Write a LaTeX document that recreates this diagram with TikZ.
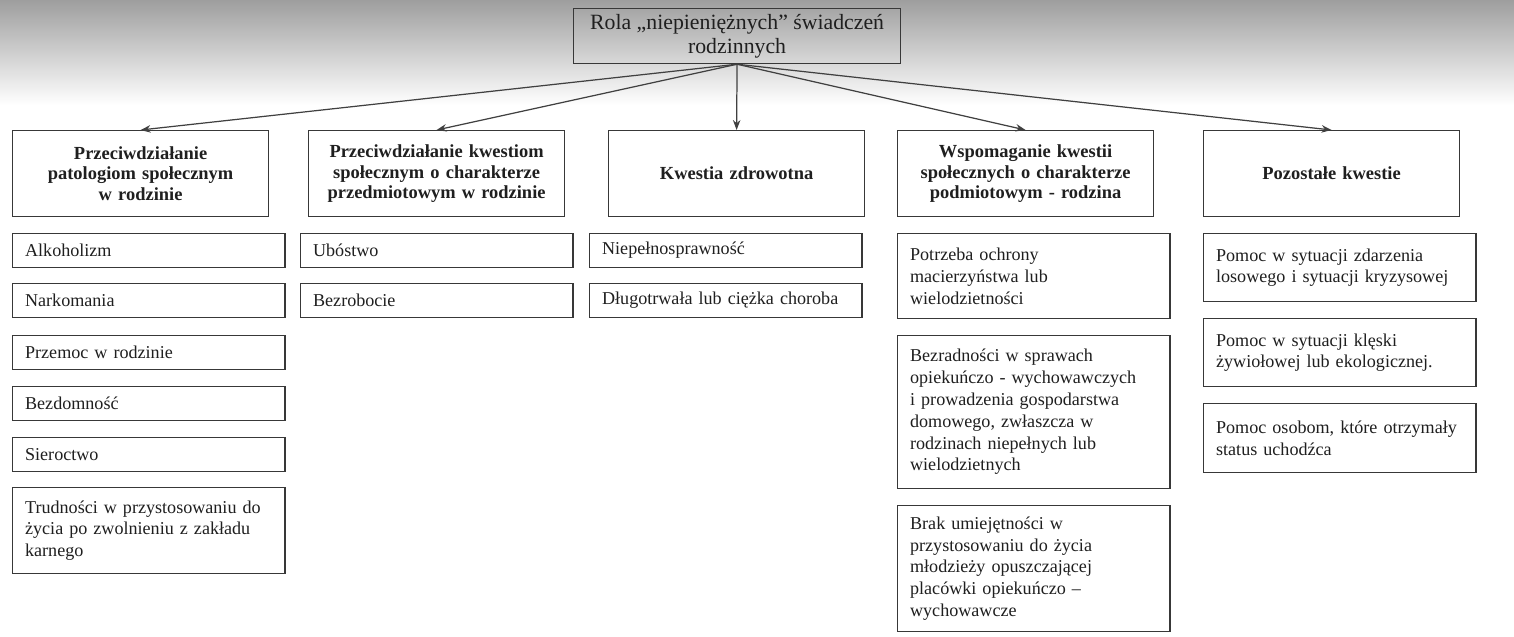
\documentclass[tikz,border=0pt]{standalone}
\usepackage{fontspec}
\setmainfont{Liberation Serif}
\usetikzlibrary{arrows.meta}

\begin{document}
\begin{tikzpicture}[x=0.02cm,y=-0.02cm,
	box/.style={draw=black!78, line width=0.7pt, text=black!88, anchor=north west, inner xsep=0.25cm, inner ysep=0pt},
	headbox/.style={box, fill=white, minimum width=5.12cm, minimum height=1.72cm, text width=4.62cm, align=center, font=\bfseries\fontsize{10.5}{11.7}\selectfont},
	itembox/.style={box, fill=white, minimum width=5.45cm, minimum height=0.68cm, text width=4.95cm, align=left, font=\fontsize{10.3}{12.4}\selectfont},
	link/.style={draw=black!75, line width=0.7pt, -{Stealth[length=2mm,width=1.5mm]}}]
	\useasboundingbox (0,0) rectangle (1514,636);
	% scan shadow at the top of the page
	\shade[top color=black!38, bottom color=white] (0,0) rectangle (1514,105);

	\node[box, minimum width=6.54cm, minimum height=1.1cm, align=center, font=\fontsize{12.4}{13.5}\selectfont] (root) at (573,8)
		{Rola „niepieniężnych” świadczeń\\rodzinnych};

	% headings
	\node[headbox] (h1) at (12,130) {Przeciwdziałanie\\patologiom społecznym\\w rodzinie};
	\node[headbox] (h2) at (308,130) {Przeciwdziałanie kwestiom\\społecznym o charakterze\\przedmiotowym w rodzinie};
	\node[headbox] (h3) at (608,130) {Kwestia zdrowotna};
	\node[headbox] (h4) at (897,130) {Wspomaganie kwestii\\społecznych o charakterze\\podmiotowym - rodzina};
	\node[headbox] (h5) at (1203,130) {Pozostałe kwestie};

	\foreach \h in {h1,h2,h3,h4,h5}
		\draw[link] (root.south) -- (\h.north);

	% patologie
	\node[itembox] (alko) at (12,233) {Alkoholizm};
	\node[itembox] (nark) at (12,283) {Narkomania};
	\node[itembox] (przem) at (12,335) {Przemoc w rodzinie};
	\node[itembox] (bezd) at (12,386) {Bezdomność};
	\node[itembox] (sier) at (12,437) {Sieroctwo};
	\node[itembox, minimum height=1.72cm] (trud) at (12,487)
		{Trudności w przystosowaniu do\\życia po zwolnieniu z zakładu\\karnego};

	% kwestie przedmiotowe
	\node[itembox] (ubos) at (300,233) {Ubóstwo};
	\node[itembox] (bezr) at (300,283) {Bezrobocie};

	% zdrowie
	\node[itembox] (niep) at (589,233) {Niepełnosprawność};
	\node[itembox] (chor) at (589,283) {Długotrwała lub ciężka choroba};

	% kwestie podmiotowe
	\node[itembox, minimum height=1.7cm] (ochr) at (897,233)
		{Potrzeba ochrony\\macierzyństwa lub\\wielodzietności};
	\node[itembox, minimum height=3.06cm] (bezrad) at (897,335)
		{Bezradności w sprawach\\opiekuńczo - wychowawczych\\i prowadzenia gospodarstwa\\domowego, zwłaszcza w\\rodzinach niepełnych lub\\wielodzietnych};
	\node[itembox, minimum height=2.52cm] (mlodz) at (897,505)
		{Brak umiejętności w\\przystosowaniu do życia\\młodzieży opuszczającej\\placówki opiekuńczo –\\wychowawcze};

	% pozostale
	\node[itembox, minimum height=1.36cm] (losow) at (1203,233)
		{Pomoc w sytuacji zdarzenia\\losowego i sytuacji kryzysowej};
	\node[itembox, minimum height=1.36cm] (klesk) at (1203,318)
		{Pomoc w sytuacji klęski\\żywiołowej lub ekologicznej.};
	\node[itembox, minimum height=1.38cm] (uchodz) at (1203,403)
		{Pomoc osobom, które otrzymały\\status uchodźca};
\end{tikzpicture}
\end{document}
